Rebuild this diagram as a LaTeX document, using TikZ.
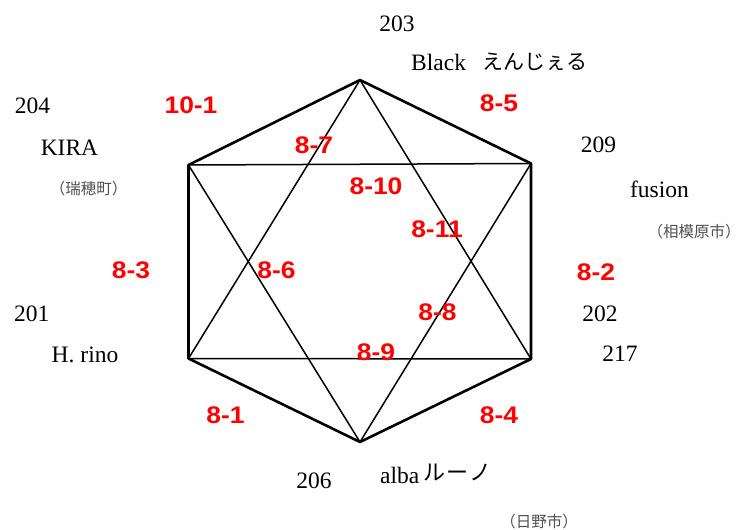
\documentclass[tikz,border=0pt]{standalone}
\usepackage{fontspec}
\setmainfont{Liberation Serif}
\newfontfamily\jp{Noto Sans CJK JP}
\newfontfamily\redfont[FakeStretch=1.1]{Liberation Sans}
\definecolor{labred}{RGB}{255,0,0}
\definecolor{notegray}{RGB}{80,80,80}
\tikzset{
  edge/.style={line width=2.6pt, line join=round, line cap=round},
  chord/.style={line width=1.5pt, line cap=round},
  num/.style={anchor=base, inner sep=0pt, font=\fontsize{23.5}{26}\selectfont},
  nm/.style={anchor=base, inner sep=0pt, font=\fontsize{23.5}{26}\selectfont},
  jpn/.style={anchor=center, inner sep=0pt, font=\jp\fontsize{21}{24}\selectfont},
  note/.style={anchor=center, inner sep=0pt, text=notegray, font=\jp\fontsize{15.5}{18}\selectfont},
  rl/.style={anchor=base, inner sep=0pt, text=labred, font=\redfont\bfseries\fontsize{24}{26}\selectfont}
}
\begin{document}
\begin{tikzpicture}[x=1pt,y=-1pt]
\useasboundingbox (0,0) rectangle (740,530);
% vertices
\coordinate (T) at (360,80);
\coordinate (UL) at (188.5,165);
\coordinate (UR) at (531,163.5);
\coordinate (LL) at (188.5,358.5);
\coordinate (LR) at (531,359);
\coordinate (B) at (360,442);
% chords
\draw[chord] (UL) -- (UR);
\draw[chord] (LL) -- (LR);
\draw[chord] (T) -- (LL);
\draw[chord] (T) -- (LR);
\draw[chord] (B) -- (UL);
\draw[chord] (B) -- (UR);
% hexagon
\draw[edge] (T) -- (UR) -- (LR) -- (B) -- (LL) -- (UL) -- cycle;
% black labels
\node[num] (n203) at (397,31.7) {203};
\node[nm, anchor=base west] (black) at (411,70) {Black};
\node[jpn, anchor=west] (enjeru) at (482,61.5) {えんじぇる};
\node[num] (n204) at (32.5,113.3) {204};
\node[nm] (kira) at (69.5,155) {KIRA};
\node[note] (mizuho) at (88.5,188.3) {（瑞穂町）};
\node[num] (n209) at (598.5,152.3) {209};
\node[nm] (fusion) at (659.5,197.7) {fusion};
\node[note] (sagami) at (694,231.7) {（相模原市）};
\node[num] (n201) at (31.7,321.7) {201};
\node[nm] (hrino) at (85,362.7) {H. rino};
\node[num] (n202) at (600,321.7) {202};
\node[num] (n217) at (620,361.7) {217};
\node[num] (n206) at (314,488.3) {206};
\node[nm, anchor=base west] (alba) at (380,483) {alba};
\node[jpn, anchor=west, font=\jp\fontsize{22}{24}\selectfont] (runo) at (423,472.5) {ル\kern1ptー\kern1ptノ};
\node[note] (hino) at (539,521.7) {（日野市）};
% red labels
\node[rl] (l101) at (191,113.3) {10-1};
\node[rl] (l85) at (499,111.7) {8-5};
\node[rl] (l87) at (314,153.3) {8-7};
\node[rl] (l810) at (376,194) {8-10};
\node[rl] (l811) at (437,237.3) {8-11};
\node[rl] (l83) at (131,278.5) {8-3};
\node[rl] (l86) at (276.5,278.3) {8-6};
\node[rl] (l82) at (596,280) {8-2};
\node[rl] (l88) at (437.5,320) {8-8};
\node[rl] (l89) at (376,360) {8-9};
\node[rl] (l81) at (225.5,423.3) {8-1};
\node[rl] (l84) at (499,423.3) {8-4};
\end{tikzpicture}
\end{document}
